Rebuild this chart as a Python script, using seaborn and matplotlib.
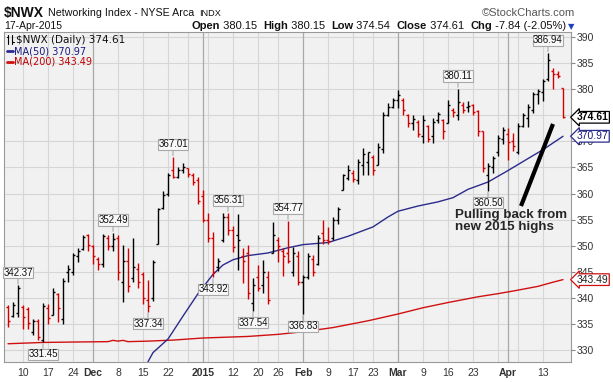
import matplotlib
matplotlib.use('Agg')
import matplotlib.pyplot as plt
from matplotlib.lines import Line2D
import numpy as np
import pandas as pd
import seaborn as sns

# trading days shown (5-Nov-2014 .. 17-Apr-2015, exchange holidays removed)
holidays = ['2014-11-27', '2014-12-25', '2015-01-01', '2015-01-19', '2015-02-16', '2015-04-03']
dates = [d for d in pd.bdate_range('2014-11-05', '2015-04-17').strftime('%Y-%m-%d') if d not in holidays]

opens = [338.2, 336.5, 337.0, 338.2, 337.8, 333.5, 335.5, 332.0, 338.0, 336.8,
         340.8, 336.0, 345.0, 345.0, 348.0, 349.4, 352.0, 350.0, 347.5, 346.5,
         351.5, 350.0, 351.5, 343.0, 347.0, 343.8, 345.5, 344.5, 339.5, 340.0,
         350.4, 357.2, 360.0, 364.5, 363.2, 364.5, 364.8, 363.5, 362.5, 359.5,
         355.0, 351.5, 346.0, 351.0, 355.5, 353.0, 352.0, 348.0, 348.5, 339.0,
         344.0, 342.5, 344.0, 348.5, 351.0, 349.0, 348.5, 345.0, 348.0, 343.0,
         344.0, 347.5, 346.5, 352.5, 351.0, 351.5, 355.0, 360.6, 363.0, 364.0,
         362.5, 365.5, 366.0, 367.0, 365.5, 368.5, 375.0, 376.5, 378.0, 378.0,
         375.0, 373.5, 373.8, 371.0, 373.0, 371.0, 374.0, 374.0, 373.5, 376.0,
         375.0, 377.0, 376.5, 377.0, 375.8, 372.0, 363.5, 365.0, 368.0, 370.5,
         371.5, 370.0, 368.0, 373.0, 374.5, 376.0, 379.0, 379.5, 382.0, 383.5,
         383.0, 380.15]
highs = [338.6, 339.2, 342.37, 338.6, 338.3, 336.0, 336.0, 339.0, 338.9, 341.8,
         341.0, 343.8, 346.3, 348.6, 349.5, 352.1, 352.3, 350.2, 347.9, 352.3,
         352.0, 352.49, 352.0, 350.2, 349.5, 351.5, 346.6, 345.0, 343.5, 347.3,
         357.3, 360.4, 363.9, 367.01, 365.1, 365.8, 364.9, 363.9, 363.2, 360.7,
         356.3, 352.6, 347.6, 356.3, 356.31, 353.8, 356.0, 349.5, 350.1, 343.8,
         346.3, 347.3, 345.1, 354.5, 351.6, 349.5, 354.77, 349.8, 348.9, 344.4,
         348.5, 348.2, 352.0, 354.9, 353.5, 355.5, 357.4, 363.8, 365.4, 364.5,
         366.7, 368.7, 368.0, 367.4, 369.6, 375.7, 377.3, 378.3, 379.8, 378.3,
         375.3, 375.1, 374.1, 375.1, 373.2, 374.5, 375.7, 374.3, 378.0, 376.3,
         380.11, 377.6, 377.8, 377.2, 376.0, 372.0, 365.8, 367.2, 371.2, 372.8,
         372.6, 371.6, 373.5, 375.4, 377.1, 379.4, 380.0, 382.0, 386.94, 384.1,
         383.5, 380.15]
lows = [334.4, 336.3, 336.3, 334.1, 334.1, 332.8, 331.9, 331.45, 335.0, 336.7,
        335.4, 335.0, 343.1, 344.4, 346.9, 349.2, 348.9, 346.5, 345.3, 346.0,
        349.2, 348.9, 343.5, 339.2, 341.2, 343.1, 341.8, 338.9, 337.34, 339.4,
        350.4, 357.0, 359.5, 362.9, 362.9, 363.9, 363.2, 361.7, 357.9, 354.5,
        350.7, 343.92, 345.1, 350.7, 352.0, 348.8, 345.4, 342.9, 339.7, 337.54,
        341.3, 341.0, 338.8, 348.5, 346.9, 344.1, 346.6, 344.1, 342.4, 336.83,
        343.6, 344.1, 346.2, 350.3, 350.3, 351.0, 354.2, 360.6, 362.5, 362.2,
        361.9, 363.5, 363.5, 363.5, 365.4, 367.7, 374.8, 376.4, 376.4, 375.1,
        372.8, 372.2, 370.9, 369.6, 369.9, 369.6, 373.5, 370.5, 373.5, 374.6,
        374.1, 375.4, 375.6, 375.0, 371.0, 364.2, 360.50, 364.0, 367.2, 369.5,
        366.5, 368.2, 367.5, 372.8, 372.8, 375.4, 377.1, 377.7, 381.5, 380.1,
        382.1, 374.54]
closes = [335.6, 338.6, 341.8, 336.4, 335.2, 335.6, 332.4, 338.5, 336.2, 341.2,
          338.0, 343.2, 345.6, 348.2, 349.0, 351.6, 350.2, 348.0, 346.4, 351.8,
          350.0, 351.2, 345.0, 347.0, 342.3, 346.0, 343.0, 340.0, 338.4, 346.8,
          357.0, 359.8, 363.5, 363.2, 364.6, 365.0, 363.8, 362.2, 358.5, 355.0,
          351.5, 345.0, 347.0, 355.5, 353.0, 349.8, 351.0, 347.0, 341.0, 342.5,
          341.8, 345.0, 339.5, 352.0, 350.0, 348.0, 347.0, 348.5, 343.0, 344.0,
          348.0, 345.0, 351.5, 351.0, 350.8, 355.0, 357.0, 363.5, 364.5, 362.8,
          366.0, 367.5, 367.9, 364.5, 369.0, 375.0, 376.5, 378.0, 378.8, 376.0,
          373.5, 374.3, 371.5, 374.0, 370.5, 373.8, 375.2, 372.0, 377.0, 375.6,
          377.5, 376.0, 376.8, 375.6, 372.0, 364.8, 365.3, 366.8, 370.6, 372.2,
          369.8, 369.2, 373.0, 375.0, 376.5, 379.0, 379.6, 381.5, 385.5, 383.0,
          382.45, 374.61]

# moving averages
ma50_dates = ['2014-12-15', '2014-12-17', '2014-12-22', '2014-12-26', '2014-12-31', '2015-01-06',
              '2015-01-08', '2015-01-12', '2015-01-15', '2015-01-22', '2015-01-28', '2015-02-02',
              '2015-02-09', '2015-02-13', '2015-02-23', '2015-02-26', '2015-03-02', '2015-03-06',
              '2015-03-12', '2015-03-17', '2015-03-20', '2015-03-26', '2015-04-01', '2015-04-08',
              '2015-04-13', '2015-04-17']
ma50_values = [326.0, 329.5, 332.1, 336.5, 340.8, 344.5, 346.3, 347.3, 348.1, 348.6, 349.6, 350.2,
               350.6, 351.8, 353.6, 355.5, 356.6, 357.6, 358.4, 359.2, 360.8, 362.2, 364.4, 366.7,
               368.4, 370.97]
ma200_dates = ['2014-11-05', '2014-11-14', '2014-11-26', '2014-12-04', '2014-12-05', '2014-12-08',
               '2014-12-09', '2014-12-10', '2014-12-16', '2014-12-23', '2015-01-02', '2015-01-15',
               '2015-01-26', '2015-02-02', '2015-02-10', '2015-02-20', '2015-03-02', '2015-03-09',
               '2015-03-16', '2015-03-24', '2015-03-30', '2015-04-02', '2015-04-10', '2015-04-15',
               '2015-04-17']
ma200_values = [331.2, 331.45, 331.55, 331.6, 331.85, 331.7, 331.85, 331.6, 331.7, 331.9, 332.3, 332.6,
                333.0, 333.5, 334.3, 335.6, 336.9, 338.1, 339.1, 340.2, 340.8, 341.3, 342.2, 343.0,
                343.49]

# x axis
tick_dates = ['2014-11-10', '2014-11-17', '2014-11-24', '2014-12-01', '2014-12-08', '2014-12-15',
              '2014-12-22', '2015-01-02', '2015-01-12', '2015-01-20', '2015-01-26', '2015-02-02',
              '2015-02-09', '2015-02-17', '2015-02-23', '2015-03-02', '2015-03-09', '2015-03-16',
              '2015-03-23', '2015-04-01', '2015-04-13']
tick_labels = ['10', '17', '24', 'Dec', '8', '15', '22', '2015', '12', '20', '26', 'Feb',
               '9', '17', '23', 'Mar', '9', '16', '23', 'Apr', '13']
month_dates = ['2014-12-01', '2015-01-02', '2015-02-02', '2015-03-02', '2015-04-01']
week_dates = ['2014-11-10', '2014-11-17', '2014-11-24', '2014-12-08', '2014-12-15', '2014-12-22',
              '2014-12-29', '2015-01-05', '2015-01-12', '2015-01-20', '2015-01-26', '2015-02-09',
              '2015-02-17', '2015-02-23', '2015-03-09', '2015-03-16', '2015-03-23', '2015-03-30',
              '2015-04-06', '2015-04-13']

# swing high / low labels
swing_dates = ['2014-11-07', '2014-11-14', '2014-12-05', '2014-12-16', '2014-12-23', '2015-01-06',
               '2015-01-09', '2015-01-16', '2015-01-28', '2015-02-02', '2015-03-18', '2015-03-26',
               '2015-04-14']
swing_values = [342.37, 331.45, 352.49, 337.34, 367.01, 343.92, 356.31, 337.54, 354.77, 336.83,
                380.11, 360.50, 386.94]
swing_kind = ['high', 'low', 'high', 'low', 'high', 'low', 'high', 'low', 'high', 'low',
              'high', 'low', 'high']

df = pd.DataFrame({'date': dates, 'open': opens, 'high': highs, 'low': lows, 'close': closes})
df['pos'] = np.arange(len(df))
pos_of = dict(zip(df['date'], df['pos']))
prev_close = np.r_[df['open'].iloc[0], df['close'].values[:-1]]
RED = '#d40000'
NAVY = '#2b2b8c'
df['color'] = np.where(df['close'].values >= prev_close, 'black', RED)

W, H = 613, 382
def fx(px):
    return px / W
def fy(py):
    return 1 - py / H

sns.set_style('white')
plt.rcParams['font.family'] = ['Liberation Sans', 'DejaVu Sans']
VERD = ['DejaVu Sans']

fig = plt.figure(figsize=(W / 100, H / 100), dpi=100)
renderer = fig.canvas.get_renderer()
ax = fig.add_axes([fx(4), fy(362), (571 - 4) / W, (362 - 32) / H])
ax.set_facecolor('#f1f1f1')

# grid
for v in range(330, 391, 5):
    ax.axhline(v, color='#d6d6d6', lw=0.8, zorder=0)
for d in week_dates:
    ax.axvline(pos_of[d], color='#d6d6d6', lw=0.8, zorder=0)
for d in month_dates:
    ax.axvline(pos_of[d], color='#a9a9a9', lw=0.9, zorder=0)

# moving averages
sns.lineplot(x=[pos_of[d] for d in ma200_dates], y=ma200_values, ax=ax, color='#d01010', lw=1.0,
             legend=False, zorder=2)
sns.lineplot(x=[pos_of[d] for d in ma50_dates], y=ma50_values, ax=ax, color=NAVY, lw=1.0,
             legend=False, zorder=2)

# OHLC bars
ax.vlines(df['pos'], df['low'], df['high'], colors=df['color'], lw=1.0, zorder=3)
ax.hlines(df['open'], df['pos'] - 0.45, df['pos'], colors=df['color'], lw=1.0, zorder=3)
ax.hlines(df['close'], df['pos'], df['pos'] + 0.45, colors=df['color'], lw=1.0, zorder=3)

ax.set_xlim(-0.8, 112.6)
ax.set_ylim(327.7, 390.96)

# swing labels
for d, v, k in zip(swing_dates, swing_values, swing_kind):
    off = 5.5 if k == 'high' else -5
    ax.annotate(f'{v:.2f}', xy=(pos_of[d], v), xytext=(0, off), textcoords='offset points',
                ha='center', va='bottom' if k == 'high' else 'top', fontsize=7, color='#111',
                bbox=dict(boxstyle='square,pad=0.06', fc='#f8f8f8', ec='#a8a8a8', lw=0.8),
                arrowprops=dict(arrowstyle='-', color='#a8a8a8', lw=0.8, shrinkA=0, shrinkB=1),
                zorder=5)

# axes styling
ax.yaxis.tick_right()
ax.set_yticks(range(330, 391, 5))
ax.tick_params(axis='y', length=3, width=0.8, color='#888', labelsize=7.5, labelcolor='#333', pad=1)
ax.set_xticks([pos_of[d] for d in tick_dates])
ax.set_xticklabels(tick_labels)
ax.set_xticks(df['pos'], minor=True)
ax.tick_params(axis='x', which='both', length=2, width=0.6, color='#888', labelsize=7.5,
               labelcolor='#333', pad=2)
for lbl in ax.get_xticklabels():
    if not lbl.get_text().isdigit() or lbl.get_text() == '2015':
        lbl.set_fontweight('bold')
for s in ax.spines.values():
    s.set_color('#999999')
    s.set_linewidth(0.8)

# last-value boxes on the right (drawn over the axis labels, as on the original)
yt = ax.get_yaxis_transform()
for val, txt_col, edge, wt in [(374.61, 'black', 'black', 'bold'),
                               (370.97, '#1a1a80', NAVY, 'normal'),
                               (343.49, '#222222', '#d01010', 'normal')]:
    ax.text(1.010, val, f'{val:.2f}', transform=yt, va='center', ha='left', fontsize=7.5,
            fontweight=wt, color=txt_col, clip_on=False, zorder=6,
            bbox=dict(boxstyle='larrow,pad=0.08', fc='white', ec=edge, lw=0.9))

# in-chart legend
fig.add_artist(Line2D([fx(8), fx(8)], [fy(35), fy(44)], color='black', lw=0.8))
fig.add_artist(Line2D([fx(6.5), fx(8)], [fy(37), fy(37)], color='black', lw=0.8))
fig.add_artist(Line2D([fx(12), fx(12)], [fy(35), fy(44)], color='black', lw=0.8))
fig.add_artist(Line2D([fx(12), fx(13.5)], [fy(42), fy(42)], color='black', lw=0.8))
fig.text(fx(16), fy(40), '$NWX (Daily) 374.61', fontsize=7.5, family=VERD, va='center', color='#111')
fig.add_artist(Line2D([fx(7), fx(13)], [fy(51), fy(51)], color=NAVY, lw=2))
fig.text(fx(14), fy(51), 'MA(50) 370.97', fontsize=7, family=VERD, va='center', color='#1a1a80')
fig.add_artist(Line2D([fx(7), fx(13)], [fy(62), fy(62)], color='#d01010', lw=2))
fig.text(fx(14), fy(62), 'MA(200) 343.49', fontsize=7, family=VERD, va='center', color='#c00000')

# header line 1
x = 4
for txt, size, wt, gap in [('$NWX', 10, 'bold', 4), ('Networking Index - NYSE Arca', 7.7, 'normal', 5),
                           ('INDX', 6.6, 'normal', 0)]:
    t = fig.text(fx(x), fy(13), txt, fontsize=size, fontweight=wt, va='center', color='#111')
    x += t.get_window_extent(renderer).width + gap
fig.text(fx(575), fy(13), '\u00a9StockCharts.com', fontsize=8, ha='right', va='center', color='#555')
fig.text(fx(4), fy(26), '17-Apr-2015', fontsize=7.5, va='center', color='#111')

# header line 2
pieces = [('Open', True), (' 380.15  ', False), ('High', True), (' 380.15  ', False),
          ('Low', True), (' 374.54  ', False), ('Close', True), (' 374.61  ', False),
          ('Chg', True), (' -7.84 (-2.05%)', False)]
objs = []
for txt, b in pieces:
    t = fig.text(0, fy(26), txt, fontsize=8, va='center', fontweight='bold' if b else 'normal',
                 color='#111')
    objs.append(t)
widths = [t.get_window_extent(renderer).width for t in objs]
x = 566 - sum(widths)
for t, w in zip(objs, widths):
    t.set_x(fx(x))
    x += w
fig.text(fx(568), fy(27), '\u25bc', fontsize=6, family=VERD, va='center', color='#2040c0')

# annotation
fig.text(fx(455), fy(209), 'Pulling back from\nnew 2015 highs', fontsize=9.6, fontweight='bold',
         va='top', ha='left', linespacing=1.05)
fig.add_artist(Line2D([fx(521), fx(553)], [fy(206), fy(124)], color='black', lw=3,
                      solid_capstyle='butt'))

fig.savefig('out.png', dpi=100, facecolor='white')
